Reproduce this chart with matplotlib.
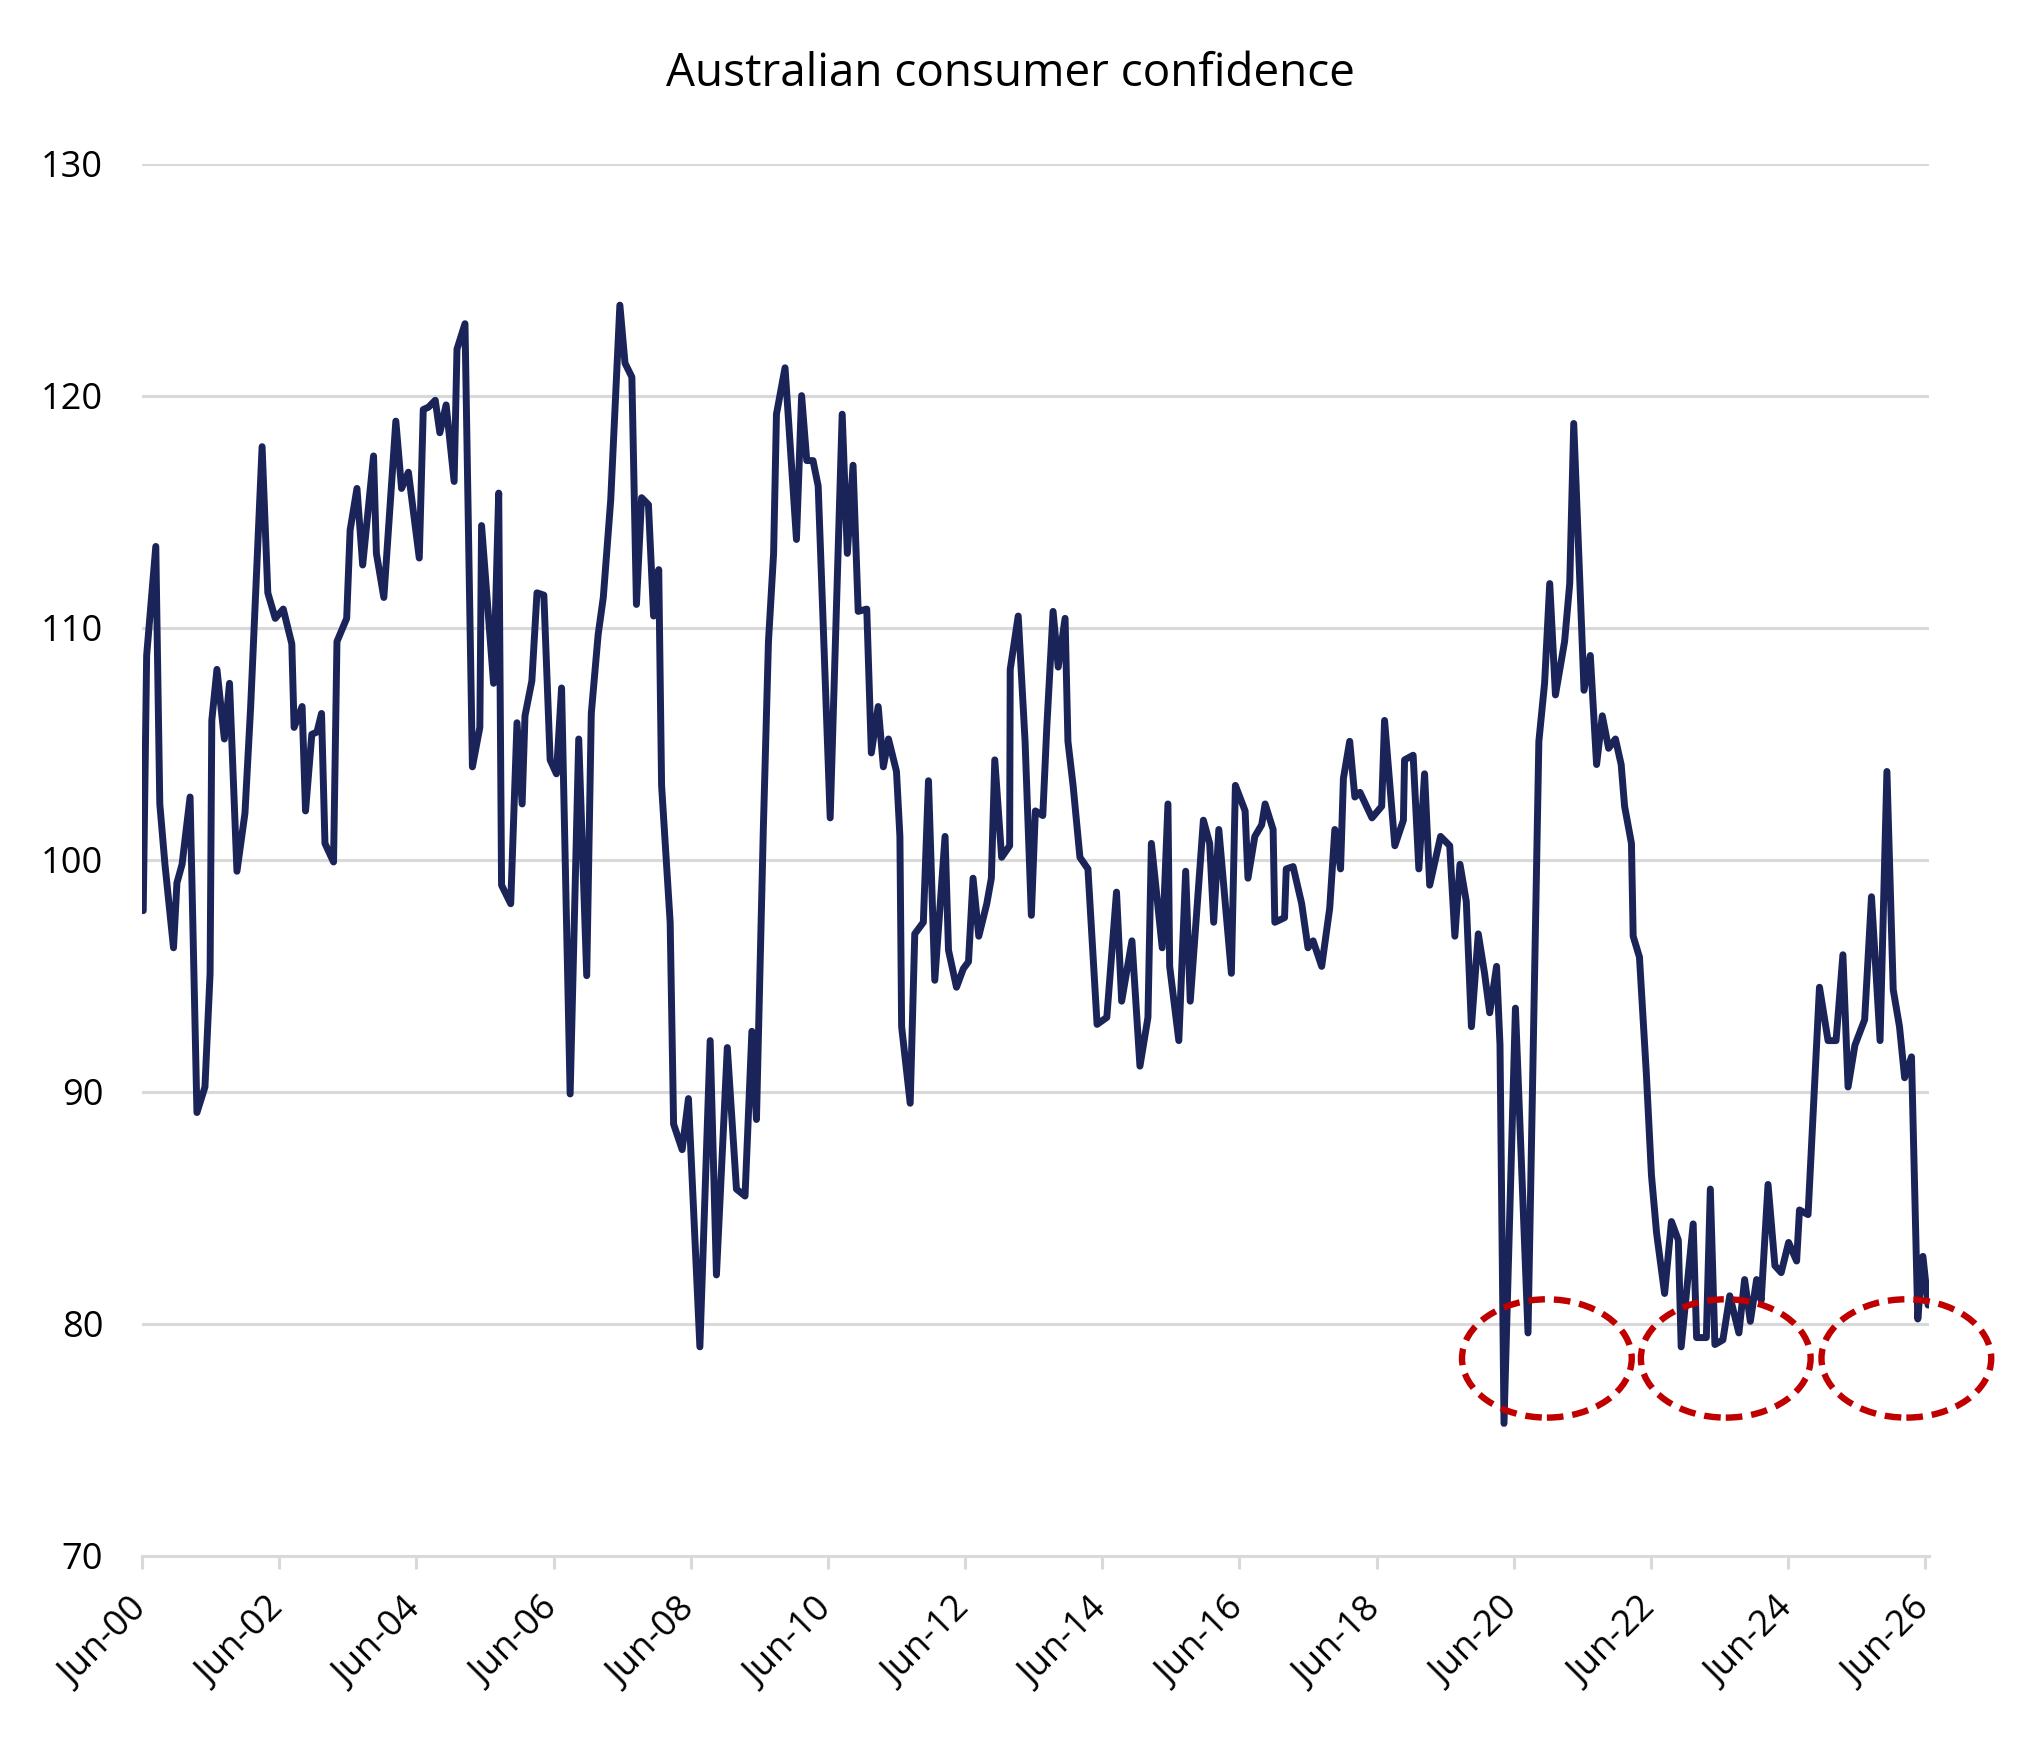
"""Australian consumer confidence, Jun-00 to Jun-26, with the three recent lows circled."""

import matplotlib
matplotlib.use("Agg")
import matplotlib.pyplot as plt
from matplotlib.patches import Ellipse

plt.rcParams["font.family"] = ["Open Sans", "DejaVu Sans"]

# months since Jun-2000 (at each turning point)
t_month = [
    0.2, 0.8, 2.4, 3.1, 4.0, 5.5, 6.1, 7.0, 8.4, 9.6,
    11.0, 11.9, 12.2, 13.1, 14.4, 15.3, 16.6, 18.0, 19.0, 21.0,
    22.0, 23.3, 24.7, 26.2, 26.6, 28.0, 28.6, 29.7, 30.6, 31.4,
    32.0, 33.5, 34.1, 35.8, 36.4, 37.6, 38.6, 40.5, 41.0, 42.3,
    44.4, 45.4, 46.6, 48.5, 49.2, 50.1, 51.3, 52.1, 53.2, 54.6,
    55.1, 56.5, 57.8, 59.1, 59.4, 61.5, 62.4, 62.9, 64.5, 65.6,
    66.5, 67.0, 68.2, 69.1, 70.3, 71.4, 72.5, 73.4, 74.9, 76.4,
    77.8, 78.6, 79.8, 80.7, 82.0, 83.6, 84.5, 85.7, 86.5, 87.4,
    88.6, 89.5, 90.4, 90.9, 92.4, 93.0, 94.5, 95.6, 97.6, 99.4,
    100.5, 102.4, 104.0, 105.5, 106.7, 107.5, 108.7, 109.6, 110.5, 111.0,
    112.5, 114.5, 115.4, 116.3, 117.4, 118.3, 120.4, 122.5, 123.4, 124.4,
    125.3, 126.8, 127.6, 128.8, 129.7, 130.6, 132.0, 132.6, 132.9, 134.4,
    135.2, 136.7, 137.6, 138.7, 140.5, 141.1, 142.5, 143.7, 144.6, 145.4,
    146.4, 147.8, 148.6, 149.2, 150.4, 151.8, 151.9, 153.3, 154.5, 155.6,
    156.3, 157.6, 158.3, 159.4, 160.3, 161.5, 162.0, 162.9, 164.1, 165.5,
    167.1, 168.8, 170.5, 171.4, 173.2, 174.6, 176.0, 176.6, 178.5, 179.5,
    179.8, 181.4, 182.6, 183.4, 185.7, 186.8, 187.5, 188.4, 190.6, 191.3,
    193.0, 193.5, 194.7, 195.9, 196.5, 197.9, 198.2, 199.9, 200.2, 201.4,
    202.9, 204.0, 204.9, 206.4, 207.8, 208.7, 209.7, 210.2, 211.3, 212.2,
    213.1, 215.2, 216.9, 217.4, 219.2, 220.7, 220.9, 222.4, 223.4, 224.4,
    225.3, 227.2, 228.8, 229.7, 230.6, 231.7, 232.6, 233.8, 234.9, 235.8,
    237.0, 237.6, 238.3, 240.3, 242.5, 244.4, 245.4, 246.3, 247.3, 248.9,
    249.8, 250.5, 252.3, 253.4, 254.5, 255.5, 256.6, 257.8, 258.8, 259.4,
    260.6, 260.9, 262.0, 263.2, 264.1, 265.0, 266.4, 267.6, 268.8, 269.3,
    271.4, 272.0, 273.7, 274.4, 275.2, 276.6, 277.8, 279.4, 280.4, 281.4,
    282.5, 283.3, 284.5, 285.7, 286.8, 288.1, 289.5, 290.0, 291.5, 293.5,
    295.0, 296.4, 297.6, 298.5, 299.7, 301.4, 302.6, 304.1, 305.3, 306.4,
    307.5, 308.4, 309.6, 310.7, 311.6, 312.5,
]

confidence = [
    97.8, 108.8, 113.5, 102.4, 99.8, 96.2, 99.0, 99.8, 102.7, 89.1,
    90.2, 95.1, 106.0, 108.2, 105.2, 107.6, 99.5, 102.0, 106.6, 117.8,
    111.5, 110.4, 110.8, 109.3, 105.7, 106.6, 102.1, 105.4, 105.5, 106.3,
    100.7, 99.9, 109.4, 110.4, 114.2, 116.0, 112.7, 117.4, 113.2, 111.3,
    118.9, 116.0, 116.7, 113.0, 119.4, 119.5, 119.8, 118.4, 119.6, 116.3,
    122.0, 123.1, 104.0, 105.7, 114.4, 107.6, 115.8, 98.9, 98.1, 105.9,
    102.4, 106.2, 107.7, 111.5, 111.4, 104.3, 103.7, 107.4, 89.9, 105.2,
    95.0, 106.3, 109.7, 111.3, 115.5, 123.9, 121.4, 120.8, 111.0, 115.6,
    115.3, 110.5, 112.5, 103.2, 97.3, 88.6, 87.5, 89.7, 79.0, 92.2,
    82.1, 91.9, 85.8, 85.5, 92.6, 88.8, 101.3, 109.4, 113.2, 119.2,
    121.2, 113.8, 120.0, 117.2, 117.2, 116.1, 101.8, 119.2, 113.2, 117.0,
    110.7, 110.8, 104.6, 106.6, 104.0, 105.2, 103.8, 101.0, 92.8, 89.5,
    96.8, 97.3, 103.4, 94.8, 101.0, 96.1, 94.5, 95.3, 95.6, 99.2,
    96.7, 98.1, 99.2, 104.3, 100.1, 100.6, 108.2, 110.5, 105.1, 97.6,
    102.1, 101.9, 105.7, 110.7, 108.3, 110.4, 105.1, 103.2, 100.1, 99.6,
    92.9, 93.2, 98.6, 93.9, 96.5, 91.1, 93.2, 100.7, 96.2, 102.4,
    95.4, 92.2, 99.5, 93.9, 101.7, 100.7, 97.3, 101.3, 95.1, 103.2,
    102.1, 99.2, 101.0, 101.5, 102.4, 101.3, 97.3, 97.5, 99.6, 99.7,
    98.1, 96.2, 96.5, 95.4, 97.9, 101.3, 99.6, 103.5, 105.1, 102.7,
    102.9, 101.8, 102.3, 106.0, 100.6, 101.7, 104.3, 104.5, 99.6, 103.7,
    98.9, 101.0, 100.6, 96.7, 99.8, 98.2, 92.8, 96.8, 95.1, 93.4,
    95.4, 92.0, 75.7, 93.6, 79.6, 105.1, 107.6, 111.9, 107.1, 109.4,
    111.9, 118.8, 107.3, 108.8, 104.1, 106.2, 104.8, 105.2, 104.1, 102.3,
    100.7, 96.7, 95.8, 90.8, 86.4, 83.9, 81.3, 84.4, 83.6, 79.0,
    84.3, 79.4, 79.4, 85.8, 79.1, 79.3, 81.2, 79.6, 81.9, 80.1,
    81.9, 81.0, 86.0, 82.5, 82.2, 83.5, 82.7, 84.9, 84.7, 94.5,
    92.2, 92.2, 95.9, 90.2, 92.0, 93.1, 98.4, 92.2, 103.8, 94.4,
    92.8, 90.6, 91.5, 80.2, 82.9, 80.8,
]

tick_months = [0, 24, 48, 72, 96, 120, 144, 168, 192, 216, 240, 264, 288, 312]
tick_labels = ["Jun-00", "Jun-02", "Jun-04", "Jun-06", "Jun-08", "Jun-10", "Jun-12",
               "Jun-14", "Jun-16", "Jun-18", "Jun-20", "Jun-22", "Jun-24", "Jun-26"]
y_ticks = [70, 80, 90, 100, 110, 120, 130]

# circled lows: (centre month, centre value)
lows = [(245.8, 78.5), (277.1, 78.5), (308.7, 78.5)]

NAVY = "#1b2458"
RED = "#c00000"
GRID = "#d9d9d9"


def main():
    fig = plt.figure(figsize=(20.21, 17.37), dpi=100)
    ax = fig.add_axes([0.0703, 0.1044, 0.8840, 0.8014])

    ax.plot(t_month, confidence, color=NAVY, lw=5.0,
            solid_joinstyle="round", solid_capstyle="round", zorder=3)

    for cx, cy in lows:
        ax.add_patch(Ellipse((cx, cy), 29.7, 5.1, fill=False, edgecolor=RED,
                             lw=4.6, linestyle=(0, (2.6, 1.4)), clip_on=False, zorder=4))

    ax.set_xlim(0, 312.6)
    ax.set_ylim(70, 130)
    ax.set_yticks(y_ticks)
    ax.set_xticks(tick_months)
    ax.set_xticklabels(tick_labels, rotation=45, ha="right", va="center",
                       rotation_mode="anchor")

    ax.grid(axis="y", color=GRID, lw=2.2, zorder=0)
    ax.set_axisbelow(True)
    for side in ["top", "right", "left"]:
        ax.spines[side].set_visible(False)
    ax.spines["bottom"].set_color(GRID)
    ax.spines["bottom"].set_linewidth(2.2)

    ax.tick_params(axis="y", length=0, pad=28, labelsize=26, labelcolor="black")
    ax.tick_params(axis="x", length=9, width=2.2, color=GRID, pad=26,
                   labelsize=26, labelcolor="black")

    fig.text(0.5, 0.9505, "Australian consumer confidence", ha="center",
             va="baseline", fontsize=33, color="black")

    fig.savefig("out.png", dpi=100)
    plt.close(fig)


if __name__ == "__main__":
    main()
